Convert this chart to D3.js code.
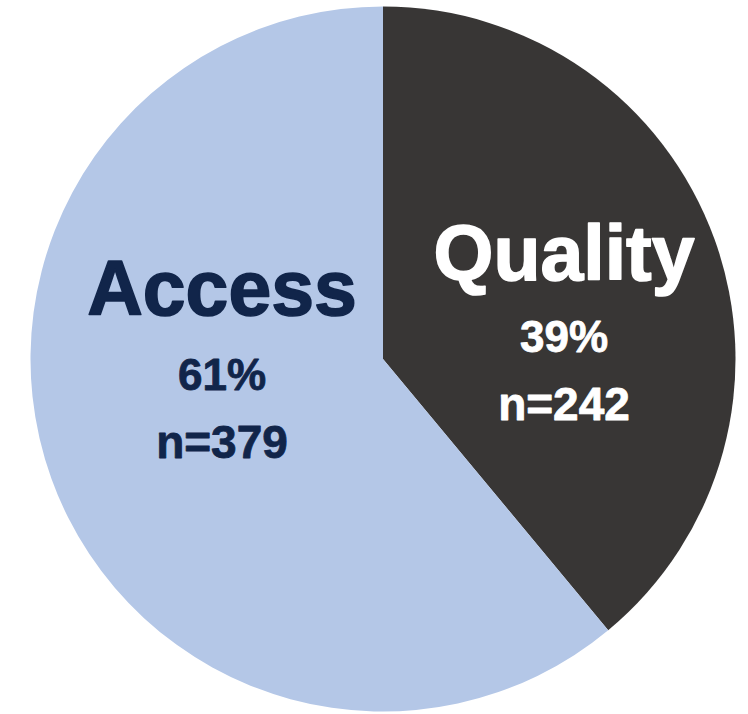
<!DOCTYPE html>
<html>
<head>
<meta charset="utf-8">
<script src="https://cdn.jsdelivr.net/npm/d3@7"></script>
<style>
  html, body { margin: 0; padding: 0; background: #ffffff; }
  svg { display: block; }
</style>
</head>
<body>
<svg id="chart" width="748" height="714"></svg>
<script>
// Survey responses split by focus area
const categories = ["Quality", "Access"];
const counts = [242, 379];
const percentLabels = ["39%", "61%"];
const countLabels = ["n=242", "n=379"];

const fills = ["#383635", "#b4c7e7"];
const textColors = ["#ffffff", "#11254a"];

const width = 748, height = 714;
const cx = 383, cy = 359, radius = 352.5;

const svg = d3.select("#chart");
const g = svg.append("g").attr("transform", `translate(${cx},${cy})`);

const data = categories.map((c, i) => ({
  name: c, value: counts[i], pct: percentLabels[i], n: countLabels[i],
  fill: fills[i], color: textColors[i]
}));

const pie = d3.pie().value(d => d.value).sort(null);
const arc = d3.arc().innerRadius(0).outerRadius(radius);
const arcs = pie(data);

g.selectAll("path.slice")
  .data(arcs)
  .join("path")
  .attr("class", "slice")
  .attr("d", arc)
  .attr("fill", d => d.data.fill);

// Label blocks: positioned along each slice's bisector
const labelArc = d3.arc().innerRadius(radius * 0.5).outerRadius(radius * 0.5);
const font = "'Liberation Sans', Arial, sans-serif";

const labels = g.selectAll("g.label")
  .data(arcs)
  .join("g")
  .attr("class", "label")
  .attr("transform", d => {
    const [x, y] = labelArc.centroid(d);
    return `translate(${x},${y})`;
  })
  .attr("fill", d => d.data.color)
  .attr("stroke", d => d.data.color)
  .attr("stroke-linejoin", "round")
  .attr("font-family", font)
  .attr("font-weight", "bold")
  .attr("text-anchor", "middle");

// offsets relative to the bisector point, per slice
const offsets = arcs.map(d => {
  const [x, y] = labelArc.centroid(d);
  return d.data.name === "Quality"
    ? { dx: (564 - cx) - x, dy: (280 - cy) - y }
    : { dx: (222 - cx) - x, dy: (315 - cy) - y };
});

labels.append("text")
  .attr("x", (d, i) => offsets[i].dx)
  .attr("y", (d, i) => offsets[i].dy)
  .attr("font-size", 77)
  .attr("stroke-width", 1.6)
  .text(d => d.data.name);

labels.append("text")
  .attr("x", (d, i) => offsets[i].dx)
  .attr("y", (d, i) => offsets[i].dy + (d.data.name === "Quality" ? 72 : 75))
  .attr("font-size", 44)
  .attr("stroke-width", 0.8)
  .text(d => d.data.pct);

labels.append("text")
  .attr("x", (d, i) => offsets[i].dx)
  .attr("y", (d, i) => offsets[i].dy + (d.data.name === "Quality" ? 140 : 143))
  .attr("font-size", 46)
  .attr("stroke-width", 0.8)
  .text(d => d.data.n);
</script>
</body>
</html>
